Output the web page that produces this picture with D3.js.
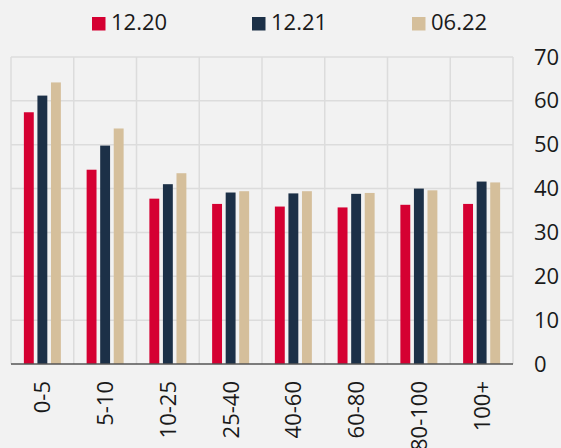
<!DOCTYPE html>
<html>
<head>
<meta charset="utf-8">
<script src="https://cdn.jsdelivr.net/npm/d3@7"></script>
<style>
  body { margin: 0; background: #f2f2f2; }
  svg { display: block; font-family: "Open Sans", sans-serif; }
</style>
</head>
<body>
<div id="chart"></div>
<script>
var categories = ["0-5", "5-10", "10-25", "25-40", "40-60", "60-80", "80-100", "100+"];
var seriesNames = ["12.20", "12.21", "06.22"];
var s1220 = [57.4, 44.3, 37.7, 36.5, 35.9, 35.7, 36.3, 36.5];
var s1221 = [61.2, 49.8, 41.0, 39.1, 38.9, 38.8, 40.0, 41.6];
var s0622 = [64.2, 53.7, 43.5, 39.4, 39.4, 39.0, 39.6, 41.4];
var yTicks = [0, 10, 20, 30, 40, 50, 60, 70];
var colors = ["#d50032", "#1c3047", "#d5bf9b"];

var series = [s1220, s1221, s0622];
var width = 561, height = 448;
var margin = {left: 11, right: 48, top: 57, bottom: 84};

var svg = d3.select("#chart").append("svg")
    .attr("width", width)
    .attr("height", height);

svg.append("rect").attr("width", width).attr("height", height).attr("fill", "#f2f2f2");

var x = d3.scaleBand()
    .domain(categories)
    .range([margin.left, width - margin.right]);

var xInner = d3.scaleBand()
    .domain(seriesNames)
    .range([0, x.bandwidth()])
    .paddingInner(0.27)
    .paddingOuter(0.95);

var y = d3.scaleLinear()
    .domain([0, 70])
    .range([height - margin.bottom, margin.top]);

// grid
var grid = svg.append("g");
grid.selectAll(".hgrid").data(yTicks.slice(1)).enter().append("line")
    .attr("x1", margin.left).attr("x2", width - margin.right)
    .attr("y1", function(d) { return y(d); }).attr("y2", function(d) { return y(d); })
    .attr("stroke", "#dcdcdc").attr("stroke-width", 1.5);
var bounds = categories.map(function(c) { return x(c); }).concat([width - margin.right]);
grid.selectAll(".vgrid").data(bounds).enter().append("line")
    .attr("x1", function(d) { return d; }).attr("x2", function(d) { return d; })
    .attr("y1", y(70)).attr("y2", y(0))
    .attr("stroke", "#dcdcdc").attr("stroke-width", 1.5);

// bars
var groups = svg.append("g").selectAll("g").data(categories).enter().append("g")
    .attr("transform", function(d) { return "translate(" + x(d) + ",0)"; });

groups.selectAll("rect")
    .data(function(d, i) { return seriesNames.map(function(s, j) { return {s: s, v: series[j][i], j: j}; }); })
    .enter().append("rect")
    .attr("x", function(d) { return xInner(d.s); })
    .attr("width", xInner.bandwidth())
    .attr("y", function(d) { return y(d.v); })
    .attr("height", function(d) { return y(0) - y(d.v); })
    .attr("fill", function(d) { return colors[d.j]; });

// baseline
svg.append("line")
    .attr("x1", margin.left).attr("x2", width - margin.right)
    .attr("y1", y(0)).attr("y2", y(0))
    .attr("stroke", "#555").attr("stroke-width", 1.5);

// y axis on the right
var yAxis = d3.axisRight(y).tickValues(yTicks).tickSize(0).tickPadding(0);
var ya = svg.append("g")
    .attr("transform", "translate(" + (width - margin.right + 21) + ",0)")
    .call(yAxis);
ya.select(".domain").remove();
ya.selectAll("text").style("font-size", "22px").attr("fill", "#1a1a1a")
    .attr("font-family", "'Open Sans', sans-serif");

// x axis labels
var xAxis = d3.axisBottom(x).tickSize(0).tickPadding(0);
var xa = svg.append("g")
    .attr("transform", "translate(0," + (y(0) + 17) + ")")
    .call(xAxis);
xa.select(".domain").remove();
xa.selectAll("text")
    .style("font-size", "22px").attr("fill", "#1a1a1a")
    .attr("font-family", "'Open Sans', sans-serif")
    .attr("text-anchor", "end")
    .attr("transform", "rotate(-90)")
    .attr("x", 0).attr("y", 0).attr("dy", "0.36em");

// legend
var legendX = [92, 252, 412];
var legend = svg.append("g").selectAll("g").data(seriesNames).enter().append("g")
    .attr("transform", function(d, i) { return "translate(" + legendX[i] + ",17)"; });
legend.append("rect").attr("width", 13.5).attr("height", 13.5)
    .attr("fill", function(d, i) { return colors[i]; });
legend.append("text").attr("x", 19).attr("y", 13)
    .style("font-size", "22px").attr("fill", "#1a1a1a")
    .text(function(d) { return d; });
</script>
</body>
</html>
